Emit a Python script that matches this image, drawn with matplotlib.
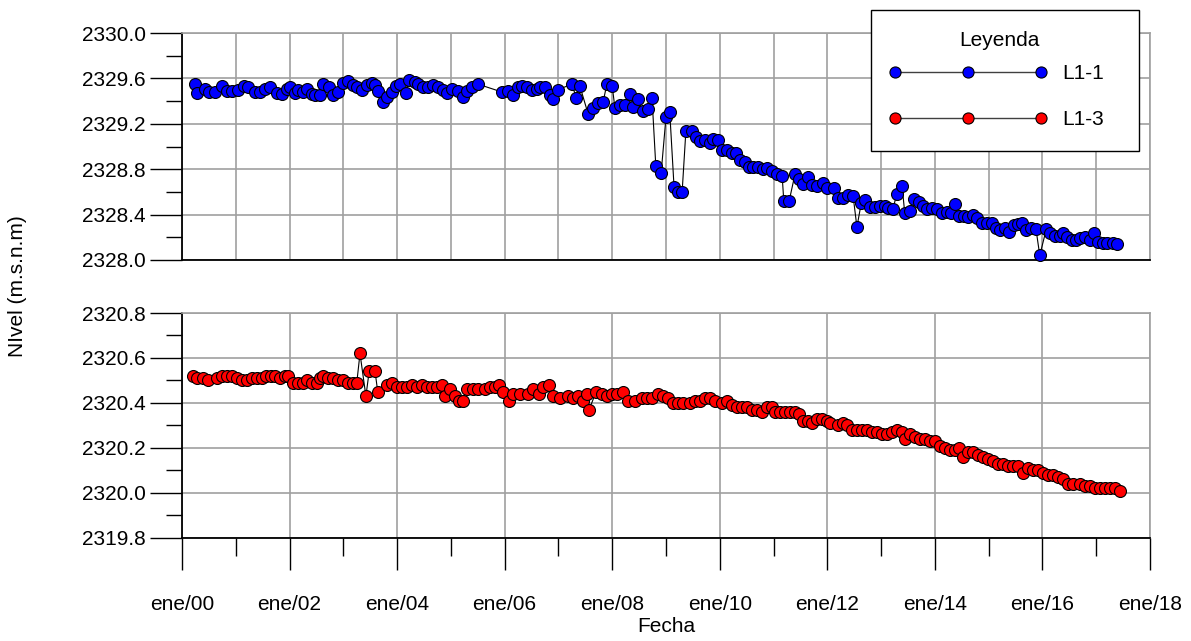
import matplotlib
matplotlib.use('Agg')
from matplotlib import pyplot as plt
from matplotlib.ticker import MultipleLocator, FuncFormatter
from matplotlib.lines import Line2D
from matplotlib.patches import Rectangle

plt.rcParams['font.family'] = ['Liberation Sans', 'DejaVu Sans']

# L1-1 : fecha (año decimal) y nivel (m.s.n.m)
t_l11 = [2000.24, 2000.28, 2000.43, 2000.50, 2000.61, 2000.74, 2000.84, 2000.93, 2001.04, 2001.15,
         2001.23, 2001.36, 2001.45, 2001.54, 2001.64, 2001.77, 2001.86, 2001.95, 2002.01, 2002.10,
         2002.16, 2002.25, 2002.32, 2002.42, 2002.47, 2002.57, 2002.62, 2002.73, 2002.81, 2002.90,
         2002.99, 2003.09, 2003.18, 2003.25, 2003.35, 2003.44, 2003.53, 2003.59, 2003.64, 2003.74,
         2003.81, 2003.90, 2003.98, 2004.05, 2004.17, 2004.22, 2004.33, 2004.39, 2004.48, 2004.57,
         2004.67, 2004.76, 2004.85, 2004.93, 2005.02, 2005.13, 2005.22, 2005.30, 2005.39, 2005.50,
         2005.95, 2006.06, 2006.15, 2006.25, 2006.32, 2006.41, 2006.51, 2006.60, 2006.66, 2006.75,
         2006.84, 2006.90, 2006.99, 2007.25, 2007.33, 2007.40, 2007.55, 2007.64, 2007.74, 2007.83,
         2007.90, 2008.00, 2008.05, 2008.14, 2008.24, 2008.33, 2008.39, 2008.48, 2008.57, 2008.66,
         2008.74, 2008.81, 2008.91, 2009.00, 2009.07, 2009.15, 2009.22, 2009.30, 2009.37, 2009.48,
         2009.56, 2009.63, 2009.72, 2009.82, 2009.87, 2009.97, 2010.04, 2010.13, 2010.23, 2010.30,
         2010.38, 2010.47, 2010.54, 2010.62, 2010.71, 2010.80, 2010.88, 2010.97, 2011.06, 2011.16,
         2011.19, 2011.29, 2011.40, 2011.47, 2011.55, 2011.64, 2011.71, 2011.81, 2011.92, 2011.99,
         2012.12, 2012.20, 2012.29, 2012.38, 2012.48, 2012.55, 2012.63, 2012.70, 2012.80, 2012.89,
         2012.98, 2013.07, 2013.13, 2013.22, 2013.29, 2013.39, 2013.44, 2013.54, 2013.61, 2013.70,
         2013.78, 2013.85, 2013.95, 2014.04, 2014.13, 2014.22, 2014.30, 2014.37, 2014.45, 2014.54,
         2014.62, 2014.71, 2014.78, 2014.88, 2014.97, 2015.06, 2015.14, 2015.21, 2015.30, 2015.38,
         2015.47, 2015.54, 2015.62, 2015.69, 2015.79, 2015.88, 2015.95, 2016.07, 2016.14, 2016.23,
         2016.33, 2016.38, 2016.46, 2016.55, 2016.62, 2016.70, 2016.79, 2016.88, 2016.96, 2017.03,
         2017.13, 2017.20, 2017.31, 2017.39]
h_l11 = [2329.55, 2329.47, 2329.51, 2329.48, 2329.48, 2329.53, 2329.49, 2329.49, 2329.50, 2329.53,
         2329.52, 2329.48, 2329.48, 2329.51, 2329.52, 2329.47, 2329.46, 2329.51, 2329.52, 2329.47,
         2329.50, 2329.48, 2329.51, 2329.46, 2329.45, 2329.45, 2329.55, 2329.52, 2329.45, 2329.48,
         2329.56, 2329.58, 2329.54, 2329.52, 2329.50, 2329.54, 2329.56, 2329.54, 2329.49, 2329.39,
         2329.44, 2329.48, 2329.53, 2329.55, 2329.47, 2329.59, 2329.57, 2329.55, 2329.52, 2329.52,
         2329.54, 2329.52, 2329.50, 2329.47, 2329.51, 2329.49, 2329.44, 2329.49, 2329.52, 2329.55,
         2329.48, 2329.49, 2329.45, 2329.52, 2329.53, 2329.52, 2329.50, 2329.51, 2329.52, 2329.52,
         2329.45, 2329.42, 2329.50, 2329.55, 2329.43, 2329.53, 2329.29, 2329.34, 2329.38, 2329.39,
         2329.55, 2329.53, 2329.34, 2329.37, 2329.37, 2329.46, 2329.35, 2329.42, 2329.31, 2329.33,
         2329.43, 2328.83, 2328.77, 2329.26, 2329.30, 2328.64, 2328.60, 2328.60, 2329.14, 2329.14,
         2329.08, 2329.05, 2329.06, 2329.03, 2329.07, 2329.06, 2328.97, 2328.97, 2328.94, 2328.94,
         2328.88, 2328.86, 2328.82, 2328.82, 2328.82, 2328.80, 2328.81, 2328.78, 2328.76, 2328.74,
         2328.52, 2328.52, 2328.76, 2328.71, 2328.67, 2328.73, 2328.66, 2328.65, 2328.68, 2328.63,
         2328.63, 2328.55, 2328.55, 2328.57, 2328.56, 2328.29, 2328.50, 2328.53, 2328.47, 2328.47,
         2328.48, 2328.48, 2328.46, 2328.45, 2328.58, 2328.65, 2328.41, 2328.43, 2328.54, 2328.51,
         2328.48, 2328.45, 2328.46, 2328.45, 2328.41, 2328.42, 2328.41, 2328.49, 2328.39, 2328.39,
         2328.38, 2328.40, 2328.37, 2328.33, 2328.33, 2328.33, 2328.28, 2328.26, 2328.28, 2328.25,
         2328.31, 2328.32, 2328.33, 2328.26, 2328.28, 2328.27, 2328.04, 2328.27, 2328.24, 2328.21,
         2328.21, 2328.24, 2328.20, 2328.18, 2328.18, 2328.19, 2328.20, 2328.18, 2328.24, 2328.16,
         2328.15, 2328.15, 2328.15, 2328.14]

# L1-3
t_l13 = [2000.20, 2000.28, 2000.39, 2000.48, 2000.65, 2000.74, 2000.84, 2000.93, 2001.02, 2001.12,
         2001.21, 2001.30, 2001.39, 2001.49, 2001.56, 2001.65, 2001.73, 2001.82, 2001.92, 2001.97,
         2002.06, 2002.16, 2002.25, 2002.32, 2002.42, 2002.51, 2002.57, 2002.62, 2002.71, 2002.81,
         2002.90, 2002.99, 2003.09, 2003.18, 2003.25, 2003.31, 2003.42, 2003.48, 2003.59, 2003.64,
         2003.81, 2003.90, 2004.00, 2004.09, 2004.18, 2004.28, 2004.37, 2004.46, 2004.56, 2004.65,
         2004.74, 2004.83, 2004.89, 2004.98, 2005.08, 2005.15, 2005.22, 2005.30, 2005.41, 2005.50,
         2005.63, 2005.73, 2005.82, 2005.89, 2005.97, 2006.08, 2006.15, 2006.28, 2006.43, 2006.53,
         2006.64, 2006.71, 2006.82, 2006.90, 2007.03, 2007.18, 2007.27, 2007.36, 2007.46, 2007.53,
         2007.57, 2007.70, 2007.81, 2007.90, 2008.00, 2008.09, 2008.20, 2008.29, 2008.42, 2008.55,
         2008.65, 2008.74, 2008.85, 2008.94, 2009.04, 2009.13, 2009.22, 2009.32, 2009.45, 2009.54,
         2009.63, 2009.72, 2009.82, 2009.91, 2010.04, 2010.13, 2010.23, 2010.32, 2010.41, 2010.51,
         2010.60, 2010.69, 2010.78, 2010.88, 2010.97, 2011.03, 2011.12, 2011.21, 2011.31, 2011.40,
         2011.47, 2011.55, 2011.64, 2011.71, 2011.81, 2011.90, 2011.99, 2012.05, 2012.20, 2012.29,
         2012.37, 2012.46, 2012.55, 2012.64, 2012.74, 2012.83, 2012.92, 2013.02, 2013.11, 2013.20,
         2013.29, 2013.39, 2013.44, 2013.54, 2013.63, 2013.72, 2013.82, 2013.91, 2014.00, 2014.09,
         2014.19, 2014.28, 2014.37, 2014.45, 2014.52, 2014.62, 2014.71, 2014.80, 2014.89, 2014.99,
         2015.08, 2015.17, 2015.27, 2015.36, 2015.45, 2015.54, 2015.64, 2015.73, 2015.82, 2015.92,
         2016.01, 2016.10, 2016.20, 2016.29, 2016.38, 2016.47, 2016.57, 2016.70, 2016.79, 2016.88,
         2016.98, 2017.07, 2017.16, 2017.26, 2017.35, 2017.44]
h_l13 = [2320.52, 2320.51, 2320.51, 2320.50, 2320.51, 2320.52, 2320.52, 2320.52, 2320.51, 2320.50,
         2320.50, 2320.51, 2320.51, 2320.51, 2320.52, 2320.52, 2320.52, 2320.51, 2320.52, 2320.52,
         2320.49, 2320.49, 2320.49, 2320.50, 2320.49, 2320.49, 2320.51, 2320.52, 2320.51, 2320.51,
         2320.50, 2320.50, 2320.49, 2320.49, 2320.49, 2320.62, 2320.43, 2320.54, 2320.54, 2320.45,
         2320.48, 2320.49, 2320.47, 2320.47, 2320.47, 2320.48, 2320.47, 2320.48, 2320.47, 2320.47,
         2320.47, 2320.48, 2320.43, 2320.46, 2320.43, 2320.41, 2320.41, 2320.46, 2320.46, 2320.46,
         2320.46, 2320.47, 2320.47, 2320.48, 2320.45, 2320.41, 2320.44, 2320.44, 2320.44, 2320.46,
         2320.44, 2320.47, 2320.48, 2320.43, 2320.42, 2320.43, 2320.42, 2320.43, 2320.41, 2320.44,
         2320.37, 2320.45, 2320.44, 2320.43, 2320.44, 2320.44, 2320.45, 2320.41, 2320.41, 2320.42,
         2320.42, 2320.42, 2320.44, 2320.43, 2320.42, 2320.40, 2320.40, 2320.40, 2320.40, 2320.41,
         2320.41, 2320.42, 2320.42, 2320.41, 2320.40, 2320.41, 2320.39, 2320.38, 2320.38, 2320.38,
         2320.37, 2320.37, 2320.36, 2320.38, 2320.38, 2320.36, 2320.36, 2320.36, 2320.36, 2320.36,
         2320.35, 2320.32, 2320.32, 2320.31, 2320.33, 2320.33, 2320.32, 2320.31, 2320.30, 2320.31,
         2320.30, 2320.28, 2320.28, 2320.28, 2320.28, 2320.27, 2320.27, 2320.26, 2320.26, 2320.27,
         2320.28, 2320.27, 2320.24, 2320.26, 2320.25, 2320.24, 2320.24, 2320.23, 2320.23, 2320.21,
         2320.20, 2320.19, 2320.19, 2320.20, 2320.16, 2320.18, 2320.18, 2320.17, 2320.16, 2320.15,
         2320.14, 2320.13, 2320.13, 2320.12, 2320.12, 2320.12, 2320.09, 2320.11, 2320.10, 2320.10,
         2320.09, 2320.08, 2320.08, 2320.07, 2320.06, 2320.04, 2320.04, 2320.04, 2320.03, 2320.03,
         2320.02, 2320.02, 2320.02, 2320.02, 2320.02, 2320.01]

x_ticks = list(range(2000, 2019, 2))
x_labels = ['ene/%02d' % (y % 100) for y in x_ticks]

GRID = '#a0a0a0'
W, H = 1191, 641

fig = plt.figure(figsize=(11.91, 6.41), dpi=100)
ax1 = fig.add_axes([0.1528, 0.5944, 0.8128, 0.3541])
ax2 = fig.add_axes([0.1528, 0.1607, 0.8128, 0.3510])

for ax, t, h, c in [(ax1, t_l11, h_l11, 'blue'), (ax2, t_l13, h_l13, 'red')]:
    ax.plot(t, h, color='black', lw=0.8, marker='o', ms=8.6, mfc=c, mec='black', mew=0.8,
            zorder=3, clip_on=False)
    ax.set_xlim(2000, 2018)
    ax.set_xticks(x_ticks)
    ax.set_xticklabels(x_labels)
    ax.xaxis.set_minor_locator(MultipleLocator(1))
    ax.yaxis.set_major_formatter(FuncFormatter(lambda v, p: '%.1f' % v))
    for s in ['top', 'right']:
        ax.spines[s].set_color(GRID)
        ax.spines[s].set_linewidth(1.2)
    for s in ['left', 'bottom']:
        ax.spines[s].set_color('black')
        ax.spines[s].set_linewidth(1.3)
    ax.tick_params(axis='y', which='major', direction='out', length=23, width=1.0,
                   labelsize=15, pad=3)
    ax.tick_params(axis='y', which='minor', direction='out', length=11.5, width=1.0)
    ax.set_axisbelow(True)

# panel superior
ax1.set_ylim(2328.0, 2330.0)
ax1.yaxis.set_major_locator(MultipleLocator(0.4))
ax1.yaxis.set_minor_locator(MultipleLocator(0.2))
ax1.tick_params(axis='x', which='both', length=0, labelbottom=False)
ax1.grid(True, axis='x', which='both', color=GRID, lw=1.2)
ax1.grid(True, axis='y', which='major', color=GRID, lw=1.2)

# panel inferior
ax2.set_ylim(2319.8, 2320.8)
ax2.yaxis.set_major_locator(MultipleLocator(0.2))
ax2.yaxis.set_minor_locator(MultipleLocator(0.1))
ax2.tick_params(axis='x', which='major', direction='out', length=23, width=1.0,
                labelsize=15, pad=18)
ax2.tick_params(axis='x', which='minor', direction='out', length=13, width=1.0)
ax2.grid(True, axis='both', which='major', color=GRID, lw=1.2)

fig.text(18 / W, 1 - 286 / H, 'NIvel (m.s.n.m)', rotation=90, ha='center', va='center',
         fontsize=15)
fig.text(666 / W, 1 - 626 / H, 'Fecha', ha='center', va='center', fontsize=15)

# leyenda: marco, titulo y entradas
frame = Rectangle((871 / W, 1 - 151 / H), 268 / W, 141 / H, transform=fig.transFigure,
                  facecolor='white', edgecolor='black', lw=1.0, zorder=5)
fig.add_artist(frame)
fig.text(999 / W, 1 - 41 / H, 'Leyenda', ha='center', va='center', fontsize=15, zorder=7)

handles = [
    Line2D([], [], color='#404040', lw=1.0, marker='o', ms=8, mfc='blue', mec='black', mew=0.8),
    Line2D([], [], color='#404040', lw=1.0, marker='o', ms=8, mfc='red', mec='black', mew=0.8),
]
leg = fig.legend(handles, ['L1-1', 'L1-3'], loc='center left',
                 bbox_to_anchor=(889 / W, 1 - 96.5 / H), bbox_transform=fig.transFigure,
                 borderaxespad=0, borderpad=0, numpoints=3, handlelength=7.6,
                 handletextpad=0.7, labelspacing=1.3, fontsize=15, frameon=False)
leg.set_zorder(6)

plt.savefig('out.png', dpi=100)
